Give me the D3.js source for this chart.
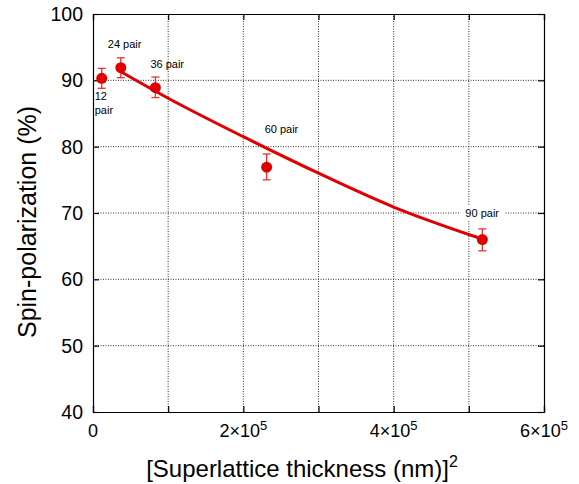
<!DOCTYPE html>
<html>
<head>
<meta charset="utf-8">
<script src="https://cdn.jsdelivr.net/npm/d3@7"></script>
<style>
  body { margin: 0; background: #fff; }
  text { font-family: "Liberation Sans", Arial, sans-serif; }
</style>
</head>
<body>
<div id="chart"></div>
<script>
// data
var samples = ["12 pair", "24 pair", "36 pair", "60 pair", "90 pair"]
var thickSq = [11600, 37000, 83000, 231000, 518000]
var polarization = [90.3, 91.9, 88.9, 76.9, 66.0]
var errUp = [1.5, 1.5, 1.6, 2.0, 1.6]
var errDown = [1.5, 1.5, 1.5, 1.9, 1.7]
// fitted curve, read at a few x positions
var fitX = [37000, 100000, 200000, 300000, 400000, 512000]
var fitY = [91.3, 87.3, 81.5, 76.0, 70.9, 66.3]
var xTicks = [0, 200000, 400000, 600000]
var yTicks = [40, 50, 60, 70, 80, 90, 100]

var width = 579, height = 484
var margin = { top: 14, right: 35, bottom: 72, left: 93 }

var svg = d3.select("#chart").append("svg")
  .attr("width", width)
  .attr("height", height)

var x = d3.scaleLinear().domain([0, 600000]).range([margin.left, width - margin.right])
var y = d3.scaleLinear().domain([40, 100]).range([height - margin.bottom, margin.top])

var x0 = x.range()[0], x1 = x.range()[1]
var y0 = y.range()[0], y1 = y.range()[1]

// dotted grid
var gridX = d3.range(100000, 600000, 100000)
var gridY = d3.range(50, 100, 10)
svg.append("g").selectAll("line").data(gridX).enter().append("line")
  .attr("x1", d => x(d)).attr("x2", d => x(d))
  .attr("y1", y0).attr("y2", y1)
  .attr("stroke", "#333").attr("stroke-width", 1)
  .attr("stroke-dasharray", "1,1.5")
svg.append("g").selectAll("line").data(gridY).enter().append("line")
  .attr("x1", x0).attr("x2", x1)
  .attr("y1", d => y(d)).attr("y2", d => y(d))
  .attr("stroke", "#333").attr("stroke-width", 1)
  .attr("stroke-dasharray", "1,1.5")

// axes with inward ticks on all four sides
var allX = d3.range(0, 600001, 100000)
svg.append("g").attr("transform", "translate(0," + y0 + ")")
  .call(d3.axisBottom(x).tickValues(allX).tickSize(-6).tickFormat(""))
svg.append("g").attr("transform", "translate(0," + y1 + ")")
  .call(d3.axisTop(x).tickValues(allX).tickSize(-6).tickFormat(""))
svg.append("g").attr("transform", "translate(" + x0 + ",0)")
  .call(d3.axisLeft(y).tickValues(yTicks).tickSize(-6).tickFormat(""))
svg.append("g").attr("transform", "translate(" + x1 + ",0)")
  .call(d3.axisRight(y).tickValues(yTicks).tickSize(-6).tickFormat(""))
svg.selectAll(".domain").attr("stroke", "#000").attr("stroke-width", 1.2)
svg.selectAll(".tick line").attr("stroke", "#000").attr("stroke-width", 1.2)

// y tick labels
svg.append("g").selectAll("text").data(yTicks).enter().append("text")
  .attr("x", x0 - 10)
  .attr("y", d => y(d) + 7)
  .attr("text-anchor", "end")
  .style("font-size", "19.5px")
  .text(d => d)

// x tick labels (a×10^5)
var xl = svg.append("g").selectAll("text").data(xTicks).enter().append("text")
  .attr("x", d => x(d))
  .attr("y", y0 + 25)
  .attr("text-anchor", "middle")
  .style("font-size", "18px")
xl.each(function (d) {
  var t = d3.select(this)
  if (d === 0) { t.text("0"); return }
  t.append("tspan").text((d / 100000) + "\u00d710")
  t.append("tspan").attr("dy", -7).style("font-size", "13px").text("5")
})

// axis titles
var xt = svg.append("text")
  .attr("x", 302).attr("y", 477)
  .attr("text-anchor", "middle")
  .style("font-size", "24px")
xt.append("tspan").text("[Superlattice thickness (nm)]")
xt.append("tspan").attr("dy", -10).style("font-size", "16px").text("2")

svg.append("text")
  .attr("transform", "translate(36,222) rotate(-90)")
  .attr("text-anchor", "middle")
  .style("font-size", "25px")
  .text("Spin-polarization (%)")

var red = "#e00000"

// fit curve
var fit = fitX.map((d, i) => [d, fitY[i]])
svg.append("path")
  .datum(fit)
  .attr("fill", "none")
  .attr("stroke", red)
  .attr("stroke-width", 3)
  .attr("d", d3.line().x(d => x(d[0])).y(d => y(d[1])).curve(d3.curveMonotoneX))

var pts = samples.map((s, i) => ({
  name: s, x: thickSq[i], v: polarization[i], up: errUp[i], dn: errDown[i]
}))

// error bars
var eb = svg.append("g").selectAll("g").data(pts).enter().append("g")
  .attr("stroke", "#e83030").attr("stroke-width", 1.3)
eb.append("line")
  .attr("x1", d => x(d.x)).attr("x2", d => x(d.x))
  .attr("y1", d => y(d.v + d.up)).attr("y2", d => y(d.v - d.dn))
eb.append("line")
  .attr("x1", d => x(d.x) - 4).attr("x2", d => x(d.x) + 4)
  .attr("y1", d => y(d.v + d.up)).attr("y2", d => y(d.v + d.up))
eb.append("line")
  .attr("x1", d => x(d.x) - 4).attr("x2", d => x(d.x) + 4)
  .attr("y1", d => y(d.v - d.dn)).attr("y2", d => y(d.v - d.dn))

// points
svg.append("g").selectAll("circle").data(pts).enter().append("circle")
  .attr("cx", d => x(d.x))
  .attr("cy", d => y(d.v))
  .attr("r", 5.5)
  .attr("fill", red)

// point labels, offsets in pixels from each point
var labelOffsets = [[-7, 22], [-13, -20], [-5, -20], [-2, -34], [-17, -23]]
pts.forEach(function (d, i) {
  var px = x(d.x) + labelOffsets[i][0]
  var py = y(d.v) + labelOffsets[i][1]
  var g = svg.append("g")
  if (i === 0) {
    g.append("text").attr("x", px).attr("y", py).style("font-size", "11px").text("12")
    g.append("text").attr("x", px).attr("y", py + 14).style("font-size", "11px").text("pair")
    return
  }
  var t = g.append("text").attr("x", px).attr("y", py).style("font-size", "11px").text(d.name)
  if (i === 4) {
    var bb = t.node().getBBox()
    g.insert("rect", "text")
      .attr("x", bb.x - 5).attr("y", bb.y - 1)
      .attr("width", bb.width + 10).attr("height", bb.height + 2)
      .attr("fill", "#fff")
  }
})
</script>
</body>
</html>
